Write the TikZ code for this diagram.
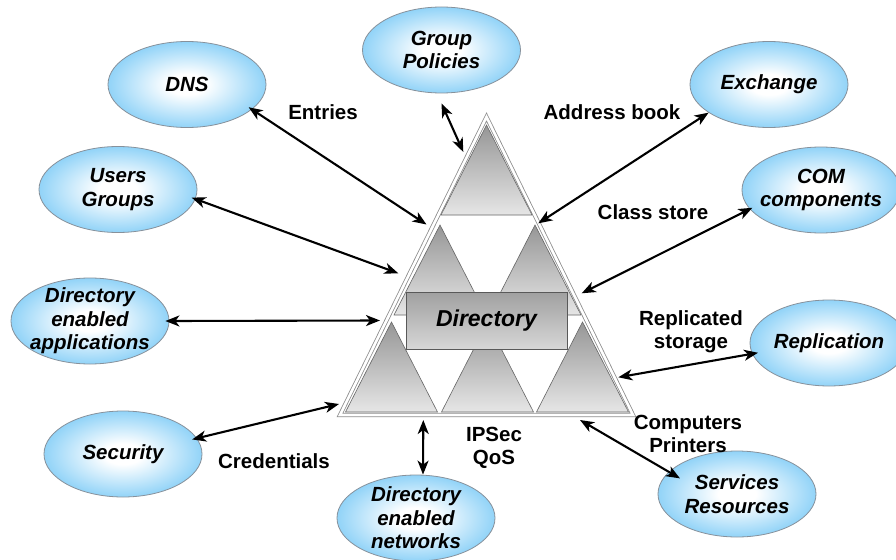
\documentclass[tikz,border=0pt]{standalone}
\usepackage{fontspec}
\setmainfont{Liberation Sans}
\usetikzlibrary{shapes.geometric,arrows.meta}
\definecolor{skyb}{RGB}{105,195,245}
\definecolor{ellborder}{RGB}{135,145,155}
\definecolor{tritop}{RGB}{150,150,150}
\definecolor{tribot}{RGB}{230,230,230}
\definecolor{boxtop}{RGB}{160,160,160}
\definecolor{boxbot}{RGB}{215,215,215}
\pgfdeclareradialshading{ellshade}{\pgfpoint{0bp}{0bp}}{color(0bp)=(white); color(6bp)=(white); color(32bp)=(skyb); color(50bp)=(skyb)}
\newcommand\lblfont{\fontsize{20.5}{23}\selectfont\bfseries}
\newcommand\ellfont{\fontsize{20.5}{23.5}\selectfont\bfseries\itshape}
\begin{document}
\begin{tikzpicture}[x=1pt,y=-1pt,
  ell/.style={ellipse, draw=ellborder, line width=0.8pt, shade, shading=ellshade,
    minimum width=158pt, minimum height=86pt, inner sep=0pt},
  etext/.style={align=center, font=\ellfont, inner sep=0pt},
  lbl/.style={align=center, font=\lblfont, inner sep=0pt},
  biarrow/.style={{Stealth[length=14pt,width=11pt,inset=4pt]}-{Stealth[length=14pt,width=11pt,inset=4pt]}, line width=2.1pt},
  tri/.style={draw=black!60, line width=0.6pt, top color=tritop, bottom color=tribot, line join=miter},
  dirbox/.style={draw=black!65, line width=0.8pt, top color=boxtop, bottom color=boxbot,
    minimum width=161pt, minimum height=57pt, inner sep=0pt, font=\fontsize{23}{26}\selectfont\bfseries\itshape}
]
\clip (0,0) rectangle (896,559);
\fill[white] (0,0) rectangle (896,559);

% outer triangle
\draw[draw=black!45, line width=0.8pt, double=white, double distance=2.6pt, line join=miter]
  (486.5,117) -- (633,415) -- (340,415) -- cycle;

% inner triangles
\path[tri] (486.5,125) -- (532,215) -- (441,215) -- cycle;
\path[tri] (440,225) -- (486,315) -- (394,315) -- cycle;
\path[tri] (535,225) -- (581,315) -- (489,315) -- cycle;
\path[tri] (391.5,322) -- (437.5,412) -- (345.5,412) -- cycle;
\path[tri] (487.5,322) -- (533.5,412) -- (441.5,412) -- cycle;
\path[tri] (582.5,322) -- (628.5,412) -- (536.5,412) -- cycle;

% directory box
\node[dirbox] (dir) at (486.5,320.5) {Directory};

% ellipses
\node[ell, label={[etext]center:{Group\\Policies}}] (gp) at (441.5,50) {};
\node[ell, label={[etext]center:{DNS}}] (dns) at (187,84.5) {};
\node[ell, label={[etext]center:{Users\\Groups}}] (ug) at (118,189.5) {};
\node[ell, label={[etext]center:{Exchange}}] (exc) at (769,84.5) {};
\node[ell, label={[etext]center:{COM\\components}}] (com) at (821,190) {};
\node[ell, label={[etext]center:{Directory\\enabled\\applications}}] (dea) at (90,321) {};
\node[ell, label={[etext]center:{Security}}] (sec) at (123,454) {};
\node[ell, label={[etext]center:{Replication}}] (rep) at (829,343) {};
\node[ell, label={[etext]center:{Services\\Resources}}] (sr) at (737,494) {};
\node[ell, label={[etext]center:{Directory\\enabled\\networks}}] (den) at (416,518) {};

% connector ends on the directory triangle
\coordinate (cGP) at (463.3,152);
\coordinate (cDNS) at (426.5,224.5);
\coordinate (cUG) at (398.3,273.3);
\coordinate (cDEA) at (380,320.5);
\coordinate (cSEC) at (339,404);
\coordinate (cDEN) at (423.3,420);
\coordinate (cSR) at (580,420);
\coordinate (cREP) at (618.3,377.3);
\coordinate (cCOM) at (581.7,293.3);
\coordinate (cEXC) at (538.3,223.3);

% connectors
\draw[biarrow] ([yshift=-10pt]gp.south) -- (cGP);
\draw[biarrow, shorten <=-4pt] (dns.-21) -- (cDNS);
\draw[biarrow, shorten <=-4pt] (ug.-7) -- (cUG);
\draw[biarrow, shorten <=-4pt] (dea.0) -- (cDEA);
\draw[biarrow, shorten <=-5pt] (sec.12) -- (cSEC);
\draw[biarrow] ([xshift=7pt]den.north) -- (cDEN);
\draw[biarrow, shorten <=-13pt] (sr.162) -- (cSR);
\draw[biarrow, shorten <=-6pt] (rep.188) -- (cREP);
\draw[biarrow, shorten <=-3pt] (com.195) -- (cCOM);
\draw[biarrow] (exc.205) -- (cEXC);

% connector labels
\node[lbl] (lEntries) at (323,112) {Entries};
\node[lbl] (lAddr) at (612,112) {Address book};
\node[lbl] (lClass) at (653,212) {Class store};
\node[lbl] (lRepl) at (691,331.5) {Replicated\\storage};
\node[lbl] (lComp) at (688,434) {Computers\\Printers};
\node[lbl] (lIPSec) at (494,447.5) {IPSec\\QoS};
\node[lbl] (lCred) at (274,461) {Credentials};
\end{tikzpicture}
\end{document}
